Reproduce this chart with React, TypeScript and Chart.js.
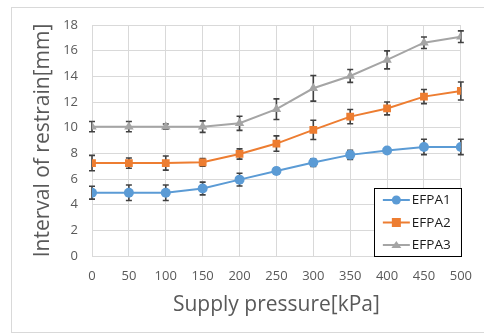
import React, { useEffect, useRef } from "react";
import { Chart, registerables } from "chart.js";

Chart.register(...registerables);

const pressures = [0, 50, 100, 150, 200, 250, 300, 350, 400, 450, 500];
const seriesNames = ["EFPA1", "EFPA2", "EFPA3"];
const efpa1 = [4.93, 4.93, 4.93, 5.26, 5.95, 6.62, 7.28, 7.88, 8.22, 8.5, 8.5];
const efpa1Err = [0.5, 0.6, 0.6, 0.5, 0.5, 0.25, 0.3, 0.35, 0.2, 0.6, 0.6];
const efpa2 = [7.24, 7.24, 7.24, 7.3, 7.95, 8.76, 9.83, 10.86, 11.5, 12.42, 12.86];
const efpa2Err = [0.6, 0.4, 0.55, 0.3, 0.4, 0.6, 0.75, 0.55, 0.5, 0.55, 0.7];
const efpa3 = [10.08, 10.08, 10.08, 10.08, 10.34, 11.44, 13.07, 14.03, 15.28, 16.62, 17.09];
const efpa3Err = [0.4, 0.4, 0.2, 0.45, 0.55, 0.8, 1.0, 0.5, 0.7, 0.45, 0.45];

const values = [efpa1, efpa2, efpa3];
const errors = [efpa1Err, efpa2Err, efpa3Err];
const colors = ["#5B9BD5", "#ED7D31", "#A5A5A5"];
const markers = ["circle", "rect", "triangle"];
const markerRadius = [5, 5.5, 5.5];

const FONT = "'Open Sans', 'DejaVu Sans', sans-serif";

const borderPlugin = {
  id: "outerBorder",
  beforeDraw(chart: any) {
    const ctx = chart.ctx;
    ctx.save();
    ctx.fillStyle = "#ffffff";
    ctx.fillRect(0, 0, chart.width, chart.height);
    ctx.strokeStyle = "#d9d9d9";
    ctx.lineWidth = 1;
    ctx.strokeRect(11.5, 7.5, chart.width + 20, 325);
    ctx.restore();
  },
};

const errorBarPlugin = {
  id: "errorBars",
  beforeDatasetsDraw(chart: any) {
    const ctx = chart.ctx;
    const xs = chart.scales.x;
    const ys = chart.scales.y;
    ctx.save();
    ctx.strokeStyle = "#404040";
    ctx.lineWidth = 1.6;
    values.forEach((vals, i) => {
      vals.forEach((v, j) => {
        const e = errors[i][j];
        const px = xs.getPixelForValue(pressures[j]);
        const top = ys.getPixelForValue(v + e);
        const bot = ys.getPixelForValue(v - e);
        ctx.beginPath();
        ctx.moveTo(px, top);
        ctx.lineTo(px, bot);
        ctx.moveTo(px - 3, top);
        ctx.lineTo(px + 3, top);
        ctx.moveTo(px - 3, bot);
        ctx.lineTo(px + 3, bot);
        ctx.stroke();
      });
    });
    ctx.restore();
  },
};

const legendPlugin = {
  id: "insideLegend",
  afterDraw(chart: any) {
    const ctx = chart.ctx;
    const area = chart.chartArea;
    const w = 87;
    const h = 68;
    const x0 = area.right - w;
    const y0 = area.bottom - h;
    ctx.save();
    ctx.fillStyle = "#ffffff";
    ctx.fillRect(x0, y0, w, h);
    ctx.strokeStyle = "#000000";
    ctx.lineWidth = 1;
    ctx.strokeRect(Math.round(x0) + 0.5, Math.round(y0) + 0.5, w, h);
    seriesNames.forEach((name, i) => {
      const cy = y0 + 12 + i * 22.5;
      const lx0 = x0 + 9;
      const lx1 = x0 + 36;
      ctx.strokeStyle = colors[i];
      ctx.lineWidth = 2;
      ctx.beginPath();
      ctx.moveTo(lx0, cy);
      ctx.lineTo(lx1, cy);
      ctx.stroke();
      ctx.fillStyle = colors[i];
      const mx = (lx0 + lx1) / 2;
      ctx.beginPath();
      if (markers[i] === "circle") {
        ctx.arc(mx, cy, 4.5, 0, Math.PI * 2);
      } else if (markers[i] === "rect") {
        ctx.rect(mx - 4.5, cy - 4.5, 9, 9);
      } else {
        ctx.moveTo(mx, cy - 4);
        ctx.lineTo(mx + 5, cy + 3);
        ctx.lineTo(mx - 5, cy + 3);
        ctx.closePath();
      }
      ctx.fill();
      ctx.fillStyle = "#1a1a1a";
      ctx.font = `13.5px ${FONT}`;
      ctx.textBaseline = "middle";
      ctx.textAlign = "left";
      ctx.fillText(name, lx1 + 2, cy + 0.5);
    });
    ctx.restore();
  },
};

export default function App() {
  const ref = useRef<HTMLCanvasElement | null>(null);
  useEffect(() => {
    if (!ref.current) return;
    const chart = new Chart(ref.current, {
      type: "line",
      data: {
        datasets: values.map((vals, i) => ({
          label: seriesNames[i],
          data: vals.map((v, j) => ({ x: pressures[j], y: v })),
          borderColor: colors[i],
          backgroundColor: colors[i],
          borderWidth: 2,
          pointStyle: markers[i] as any,
          pointRadius: markerRadius[i],
          pointBorderWidth: 0,
          pointBackgroundColor: colors[i],
          tension: 0,
        })),
      },
      options: {
        responsive: false,
        animation: false,
        layout: { padding: { left: 0, right: 21, top: 25, bottom: 0 } },
        plugins: {
          legend: { display: false },
          tooltip: { enabled: false },
        },
        scales: {
          x: {
            type: "linear",
            min: 0,
            max: 500,
            ticks: {
              stepSize: 50,
              color: "#595959",
              font: { family: FONT, size: 13 },
              padding: 12,
              maxRotation: 0,
            },
            grid: { color: "#d9d9d9", drawTicks: false, lineWidth: 1 },
            border: { color: "#d9d9d9" },
            title: {
              display: true,
              text: "Supply pressure[kPa]",
              color: "#595959",
              font: { family: FONT, size: 21 },
              padding: { top: 0, bottom: 18 },
            },
            afterFit(scale: any) {
              scale.height = 80;
            },
          },
          y: {
            min: 0,
            max: 18,
            ticks: {
              stepSize: 2,
              color: "#595959",
              font: { family: FONT, size: 13 },
              padding: 14,
            },
            grid: { color: "#d9d9d9", drawTicks: false, lineWidth: 1 },
            border: { color: "#d9d9d9" },
            title: {
              display: true,
              text: "Interval of restrain[mm]",
              color: "#595959",
              font: { family: FONT, size: 21 },
              padding: { top: 30, bottom: 0 },
            },
            afterFit(scale: any) {
              scale.width = 92;
            },
          },
        },
      },
      plugins: [borderPlugin, errorBarPlugin, legendPlugin],
    });
    return () => chart.destroy();
  }, []);
  return (
    <div style={{ position: "absolute", left: 0, top: 0, width: 484, height: 336 }}>
      <canvas ref={ref} width={484} height={336} />
    </div>
  );
}
